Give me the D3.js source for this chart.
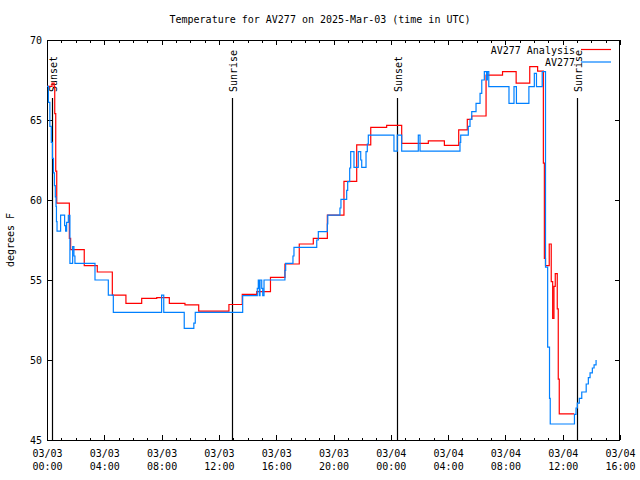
<!DOCTYPE html>
<html><head><meta charset="utf-8">
<script src="https://cdn.jsdelivr.net/npm/d3@7"></script>
<style>
body{margin:0;background:#fff}
svg{display:block}
text{font-family:"DejaVu Sans Mono","Liberation Mono",monospace;font-size:10px;fill:#000}
</style>
</head><body>
<svg id="c" width="640" height="480"></svg>
<script>
const chartTitle = "Temperature for AV277 on 2025-Mar-03 (time in UTC)";
const yAxisLabel = "degrees F";
const seriesNames = ["AV277 Analysis", "AV277"];
const seriesColors = ["#ff0000", "#0080ff"];
const yTickValues = [45, 50, 55, 60, 65, 70];
const startTime = "2025-03-03T00:00:00Z";
const endTime = "2025-03-04T16:00:00Z";

// hours after 2025-03-03 00:00 UTC
const analysisHours = [0, 0.35, 0.5, 0.54, 0.61, 0.68, 1.56, 1.65, 2.6, 3.51, 4.56, 5.51, 6.61, 7.66, 8.54, 9.63, 10.59, 12.7, 13.63, 14.64, 15.6, 16.61, 17.61, 18.59, 19.57, 20.73, 21.62, 22.6, 23.71, 24.76, 26.62, 27.74, 28.74, 29.34, 29.65, 30.65, 31.8, 32.75, 33.7, 34.25, 34.65, 34.72, 34.8, 35.06, 35.2, 35.3, 35.39, 35.48, 35.62, 35.69, 35.76, 36.8];
const analysisTemps = [67.1, 67.3, 67.1, 65.4, 61.8, 59.8, 57.6, 56.9, 55.9, 55.5, 54.06, 53.54, 53.85, 53.9, 53.54, 53.44, 53.06, 53.47, 54.1, 54.27, 55.17, 56.0, 57.25, 57.6, 59.06, 61.17, 63.44, 64.54, 64.67, 63.54, 63.69, 63.42, 64.38, 65.04, 65.25, 67.8, 68.02, 67.3, 68.33, 68.06, 62.3, 56.35, 55.9, 57.25, 54.9, 52.6, 54.6, 55.4, 53.2, 48.8, 46.63, 46.63];

const obsHours = [0, 0.1, 0.2, 0.3, 0.38, 0.45, 0.52, 0.58, 0.63, 0.66, 0.7, 0.95, 1.23, 1.3, 1.37, 1.49, 1.6, 1.79, 1.88, 1.95, 3.35, 4.28, 4.63, 8.0, 8.15, 9.58, 10.25, 10.35, 13.66, 14.68, 14.75, 14.82, 14.87, 14.99, 15.06, 15.15, 16.61, 16.66, 17.17, 17.24, 18.83, 18.94, 19.57, 19.6, 20.45, 20.52, 20.92, 20.99, 21.13, 21.2, 21.43, 21.73, 21.9, 21.97, 22.27, 22.36, 22.43, 24.22, 24.45, 24.76, 25.92, 26.04, 28.83, 28.88, 29.41, 29.53, 29.65, 29.95, 30.23, 30.35, 30.53, 30.69, 30.74, 30.84, 32.25, 32.6, 32.77, 33.64, 34.02, 34.17, 34.57, 34.8, 34.95, 35.08, 35.13, 36.82, 36.93, 37.02, 37.16, 37.33, 37.64, 37.79, 37.91, 38.07, 38.19, 38.33];
const obsTemps = [67.1, 66.1, 64.6, 63.6, 62.6, 61.7, 60.9, 60.2, 59.6, 58.65, 58.06, 59.06, 58.4, 58.06, 58.6, 59.04, 56.04, 57.08, 56.5, 56.04, 55.0, 54.06, 52.98, 54.06, 52.98, 51.98, 52.3, 52.98, 54.02, 54.48, 55.0, 54.02, 55.0, 54.48, 54.02, 55.0, 55.6, 56.04, 56.5, 57.04, 57.5, 58.02, 58.5, 59.06, 59.5, 60.04, 60.6, 61.15, 62.0, 63.02, 62.04, 63.02, 62.5, 62.04, 63.02, 63.5, 64.06, 63.06, 64.06, 63.06, 64.06, 63.06, 63.6, 64.06, 64.6, 65.04, 65.52, 66.04, 66.67, 67.5, 68.02, 67.5, 68.02, 67.08, 66.04, 67.08, 66.04, 67.08, 67.92, 67.08, 68.02, 55.8, 50.8, 47.6, 46.0, 46.6, 47.0, 47.3, 47.6, 48.0, 48.5, 48.9, 49.2, 49.5, 49.7, 50.0];

const sunEventHours = [0.37, 12.94, 24.45, 37.02];
const sunEventLabels = ["Sunset", "Sunrise", "Sunset", "Sunrise"];

const L = 47, R = 620, T = 40, B = 440;
const t0 = new Date(startTime);
const toDate = h => new Date(t0.getTime() + h * 3600e3);

const svg = d3.select("#c");
const x = d3.scaleUtc().domain([new Date(startTime), new Date(endTime)]).range([L, R]);
const y = d3.scaleLinear().domain([45, 70]).range([B, T]);

// title
svg.append("text").attr("x", 320).attr("y", 23).attr("text-anchor", "middle").text(chartTitle);
// y label
svg.append("text").attr("transform", "translate(14,240) rotate(-90)").attr("text-anchor", "middle").text(yAxisLabel);

// axes
const fmtD = d3.utcFormat("%m/%d"), fmtT = d3.utcFormat("%H:%M");
const xb = svg.append("g").attr("transform", `translate(0,${B})`)
  .call(d3.axisBottom(x).ticks(d3.utcHour.every(4)).tickSizeInner(-5).tickSizeOuter(0).tickPadding(0));
xb.selectAll("text").each(function(d){
  const t = d3.select(this).attr("y", null).attr("dy", null).text(null);
  t.append("tspan").attr("x", 0).attr("y", 17).text(fmtD(d));
  t.append("tspan").attr("x", 0).attr("y", 30).text(fmtT(d));
});
svg.append("g").attr("transform", `translate(0,${B})`)
  .call(d3.axisBottom(x).ticks(d3.utcHour.every(1)).tickSizeInner(-2.5).tickSizeOuter(0).tickFormat(""));
svg.append("g").attr("transform", `translate(0,${T})`)
  .call(d3.axisTop(x).ticks(d3.utcHour.every(4)).tickSizeInner(-5).tickSizeOuter(0).tickFormat(""));
svg.append("g").attr("transform", `translate(0,${T})`)
  .call(d3.axisTop(x).ticks(d3.utcHour.every(1)).tickSizeInner(-2.5).tickSizeOuter(0).tickFormat(""));
svg.append("g").attr("transform", `translate(${L},0)`)
  .call(d3.axisLeft(y).tickValues(yTickValues).tickSizeInner(-5).tickSizeOuter(0).tickPadding(5).tickFormat(d3.format("d")));
svg.append("g").attr("transform", `translate(${R},0)`)
  .call(d3.axisRight(y).tickValues(yTickValues).tickSizeInner(-5).tickSizeOuter(0).tickFormat(""));
svg.selectAll(".domain").remove();
svg.selectAll(".tick line").attr("stroke", "#000").attr("shape-rendering", "crispEdges");
svg.selectAll(".tick text").style("font-size", "10px").attr("fill", "#000");

svg.append("rect").attr("x", L + 0.5).attr("y", T + 0.5).attr("width", R - L - 1).attr("height", B - T)
  .attr("fill", "none").attr("stroke", "#000").attr("shape-rendering", "crispEdges");

// sun events
sunEventHours.forEach((h, i) => {
  const xp = Math.round(x(toDate(h))) + 0.5;
  svg.append("line").attr("x1", xp).attr("x2", xp).attr("y1", 98).attr("y2", B)
    .attr("stroke", "#000").attr("stroke-width", 1.2);
  svg.append("text").attr("transform", `translate(${xp + 4.5},92) rotate(-90)`)
    .attr("text-anchor", "start").text(sunEventLabels[i]);
});

// series
const line = d3.line().curve(d3.curveStepAfter).x(d => x(d[0])).y(d => y(d[1]));
const seriesData = [
  analysisHours.map((h, i) => [toDate(h), analysisTemps[i]]),
  obsHours.map((h, i) => [toDate(h), obsTemps[i]])
];
[0, 1].forEach(k => {
  svg.append("path").datum(seriesData[k]).attr("d", line)
    .attr("fill", "none").attr("stroke", seriesColors[k]).attr("stroke-width", 1.2);
});

// legend
seriesNames.forEach((n, i) => {
  const yy = 49.5 + i * 12.5;
  svg.append("text").attr("x", 575).attr("y", yy + 4).attr("text-anchor", "end").text(n);
  svg.append("line").attr("x1", 581).attr("x2", 611).attr("y1", yy).attr("y2", yy)
    .attr("stroke", seriesColors[i]).attr("stroke-width", 1.2);
});
</script>
</body></html>
